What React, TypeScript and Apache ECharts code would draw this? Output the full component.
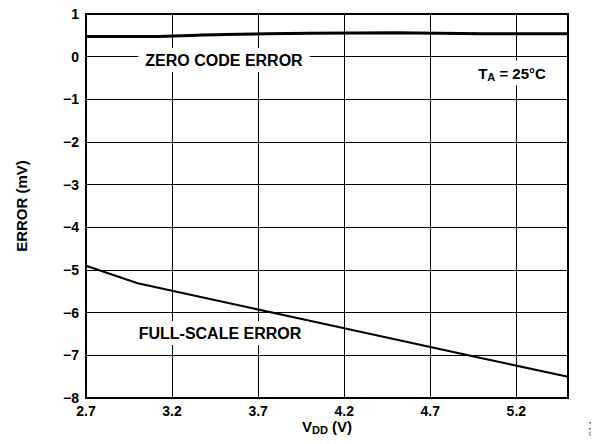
import React, { useEffect, useRef } from "react";
import * as echarts from "echarts";

const X_MIN = 2.7;
const X_MAX = 5.5;
const xTickValues = [2.7, 3.2, 3.7, 4.2, 4.7, 5.2];
const yTickValues = [1, 0, -1, -2, -3, -4, -5, -6, -7, -8];

const zeroCodeV = [2.7, 3.0, 3.5, 4.0, 4.5, 5.0, 5.5];
const zeroCodeErr = [0.47, 0.47, 0.52, 0.55, 0.56, 0.54, 0.54];

const fullScaleV = [2.7, 3.0, 3.5, 4.0, 4.5, 5.0, 5.5];
const fullScaleErr = [-4.9, -5.31, -5.75, -6.19, -6.63, -7.07, -7.5];

const FONT = "'Liberation Sans', Arial, sans-serif";

export default function App() {
  const ref = useRef<HTMLDivElement>(null);
  useEffect(() => {
    if (!ref.current) return;
    const chart = echarts.init(ref.current, null, { renderer: "svg" });
    const toX = (v: number) => +(v - X_MIN).toFixed(4);
    const fmtMinus = (v: number) => (v < 0 ? "\u2212" + Math.abs(v) : String(v));
    chart.setOption({
      animation: false,
      backgroundColor: "#fff",
      grid: {
        left: 86,
        right: 31,
        top: 14,
        bottom: 46,
        show: true,
        borderColor: "#000",
        borderWidth: 2,
        backgroundColor: "transparent",
      },
      xAxis: {
        type: "value",
        min: 0,
        max: +(X_MAX - X_MIN).toFixed(4),
        interval: 0.5,
        axisLine: { show: true, onZero: false, lineStyle: { color: "#000", width: 2 } },
        axisTick: { show: false },
        splitLine: { show: true, lineStyle: { color: "#000", width: 1 } },
        axisLabel: {
          color: "#000",
          fontFamily: FONT,
          fontWeight: "bold",
          fontSize: 14,
          margin: 6,
          lineHeight: 14,
          formatter: (v: number) => {
            const real = +(v + X_MIN).toFixed(1);
            return xTickValues.some((t) => Math.abs(t - real) < 1e-6) ? real.toFixed(1) : "";
          },
        },
        name: "{b|V}{s|DD}{b| (V)}",
        nameLocation: "middle",
        nameGap: 21,
        nameMoveOverlap: false,
        nameTextStyle: {
          rich: {
            b: { fontFamily: FONT, fontWeight: "bold", fontSize: 15, lineHeight: 15, color: "#000" },
            s: {
              fontFamily: FONT,
              fontWeight: "bold",
              fontSize: 11,
              lineHeight: 11,
              color: "#000",
              padding: [7, 0, 0, 0],
            },
          },
        },
      },
      yAxis: {
        type: "value",
        min: -8,
        max: 1,
        interval: 1,
        axisLine: { show: true, lineStyle: { color: "#000", width: 2 } },
        axisTick: { show: false },
        splitLine: { show: true, lineStyle: { color: "#000", width: 1 } },
        axisLabel: {
          color: "#000",
          fontFamily: FONT,
          fontWeight: "bold",
          fontSize: 14,
          margin: 7,
          formatter: (v: number) => (yTickValues.includes(v) ? fmtMinus(v) : ""),
        },
        name: "ERROR (mV)",
        nameLocation: "middle",
        nameGap: 57,
        nameMoveOverlap: false,
        nameRotate: 90,
        nameTextStyle: { fontFamily: FONT, fontWeight: "bold", fontSize: 15, color: "#000" },
      },
      series: [
        {
          type: "line",
          name: "ZERO CODE ERROR",
          data: zeroCodeV.map((v, i) => [toX(v), zeroCodeErr[i]]),
          symbol: "none",
          smooth: 0.3,
          lineStyle: { color: "#000", width: 3 },
          z: 5,
        },
        {
          type: "line",
          name: "FULL-SCALE ERROR",
          data: fullScaleV.map((v, i) => [toX(v), fullScaleErr[i]]),
          symbol: "none",
          lineStyle: { color: "#000", width: 2 },
          z: 5,
        },
      ],
      graphic: [
        {
          type: "text",
          x: 224,
          y: 60,
          z: 10,
          style: {
            text: "ZERO CODE ERROR",
            fontFamily: FONT,
            fontWeight: "bold",
            fontSize: 16,
            fill: "#000",
            align: "center",
            verticalAlign: "middle",
            backgroundColor: "#fff",
            padding: [4, 7, 4, 7],
          },
        },
        {
          type: "text",
          x: 220,
          y: 333,
          z: 10,
          style: {
            text: "FULL-SCALE ERROR",
            fontFamily: FONT,
            fontWeight: "bold",
            fontSize: 16,
            fill: "#000",
            align: "center",
            verticalAlign: "middle",
            backgroundColor: "#fff",
            padding: [4, 7, 4, 7],
          },
        },
        {
          type: "text",
          x: 512,
          y: 73,
          z: 10,
          style: {
            text: "{b|T}{s|A}{b| = 25°C}",
            align: "center",
            verticalAlign: "middle",
            backgroundColor: "#fff",
            padding: [3, 4, 3, 4],
            rich: {
              b: { fontFamily: FONT, fontWeight: "bold", fontSize: 15, fill: "#000", color: "#000" },
              s: {
                fontFamily: FONT,
                fontWeight: "bold",
                fontSize: 11,
                fill: "#000",
                color: "#000",
                padding: [8, 0, 0, 0],
              },
            },
          },
        },
        {
          type: "text",
          x: 592,
          y: 436,
          rotation: Math.PI / 2,
          style: {
            text: "014",
            fontFamily: FONT,
            fontSize: 9,
            fill: "#555",
            align: "left",
            verticalAlign: "middle",
          },
        },
      ],
    });
    return () => chart.dispose();
  }, []);
  return <div ref={ref} style={{ width: 599, height: 444, margin: -8 }} />;
}
